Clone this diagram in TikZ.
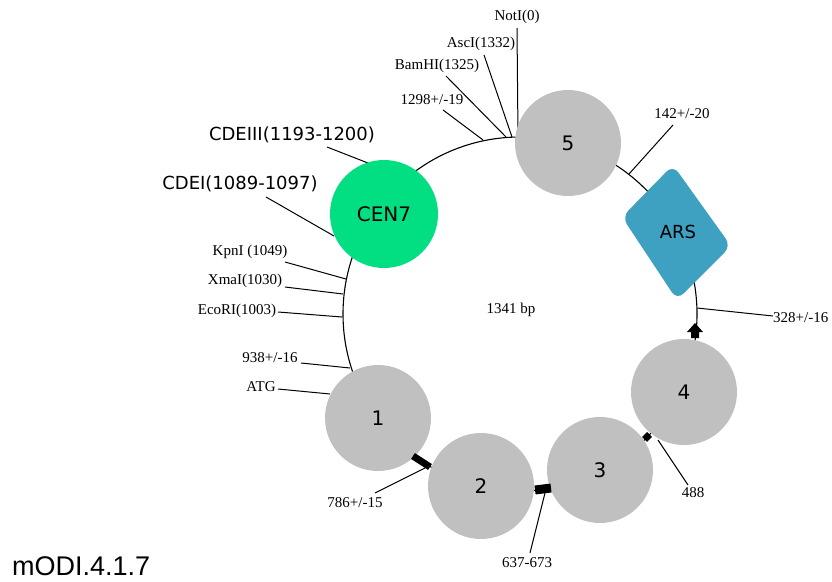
\documentclass[tikz,border=0pt]{standalone}
\usepackage{fontspec}
\setmainfont{Liberation Serif}
\newfontfamily\arialf{Liberation Sans}
\newfontfamily\comicf{DejaVu Sans}
\definecolor{cengreen}{HTML}{02DE82}
\definecolor{arsblue}{HTML}{3EA1C1}
\definecolor{partgray}{HTML}{C0C0C0}
\begin{document}
\begin{tikzpicture}[x=1pt,y=-1pt,
  ring/.style={draw=black,line width=1.1pt},
  tick/.style={draw=black,line width=1pt},
  lbl/.style={font=\fontsize{15}{15}\selectfont,inner sep=0pt},
  cdelbl/.style={font=\comicf\fontsize{18}{18}\selectfont,inner sep=0pt},
  part/.style={circle,fill=partgray,minimum size=106pt,inner sep=0pt,font=\comicf\fontsize{20}{20}\selectfont},
  bar/.style={draw=black,line width=#1},
]
\useasboundingbox (0,0) rectangle (832,581);
\coordinate (O) at (520,314);
\draw[ring] (O) circle[radius=177pt];

% label lines
\coordinate (rNot) at (518,137); \coordinate (eNot) at (517,28);
\coordinate (rAsc) at (512,137); \coordinate (eAsc) at (484,55);
\coordinate (rBam) at (506,137); \coordinate (eBam) at (446,76);
\coordinate (r1298) at (483,140); \coordinate (e1298) at (443,110);
\coordinate (rC3) at (368,163); \coordinate (eC3) at (327,147);
\coordinate (rC1) at (334,236); \coordinate (eC1) at (266,197);
\coordinate (rKpn) at (346,279); \coordinate (eKpn) at (285,262);
\coordinate (rXma) at (343,294); \coordinate (eXma) at (285,287);
\coordinate (rEco) at (342,317); \coordinate (eEco) at (278,312);
\coordinate (r938) at (350,368); \coordinate (e938) at (301,363);
\coordinate (rATG) at (330,394); \coordinate (eATG) at (278,389);
\coordinate (r142) at (629,174); \coordinate (e142) at (673,125);
\coordinate (r328) at (697,308); \coordinate (e328) at (773,316);
\coordinate (r786) at (425,468); \coordinate (e786) at (375,493);
\coordinate (r637) at (545,493); \coordinate (e637) at (530,553);
\coordinate (r488) at (658,440); \coordinate (e488) at (688,485);
\foreach \n in {Not,Asc,Bam,1298,C3,C1,Kpn,Xma,Eco,938,ATG,142,328,786,637,488}
  \draw[tick] (r\n) -- (e\n);

\node[lbl] (lNot) at (517,17) {NotI(0)};
\node[lbl] (lAsc) at (481,44) {AscI(1332)};
\node[lbl] (lBam) at (437,66) {BamHI(1325)};
\node[lbl] (l1298) at (432,100) {1298+/-19};
\node[cdelbl] (lC3) at (292,135) {CDEIII(1193-1200)};
\node[cdelbl] (lC1) at (240,184) {CDEI(1089-1097)};
\node[lbl] (lKpn) at (250,252) {KpnI (1049)};
\node[lbl] (lXma) at (245,281) {XmaI(1030)};
\node[lbl] (lEco) at (237,311) {EcoRI(1003)};
\node[lbl] (l938) at (270,358) {938+/-16};
\node[lbl] (lATG) at (261,387) {ATG};
\node[lbl] (l142) at (682,114) {142+/-20};
\node[lbl,anchor=west] (l328) at (773,318) {328+/-16};
\node[lbl] (l786) at (355,503) {786+/-15};
\node[lbl] (l637) at (527,563) {637-673};
\node[lbl] (l488) at (693,493) {488};

\node[lbl] (bp) at (511,310) {1341 bp};

% parts
\node[part] (p5) at (568,143) {5};
\node[part] (p1) at (378,418) {1};
\node[part] (p2) at (481,486) {2};
\node[part] (p3) at (600,470) {3};
\node[part] (p4) at (684,392) {4};
\node[circle,fill=cengreen,minimum size=108pt,inner sep=0pt,font=\comicf\fontsize{20}{20}\selectfont] (cen) at (384,214) {CEN7};
\fill[arsblue,rounded corners=9pt] (673,165) -- (731,246) -- (677,300) -- (622,217) -- cycle;
\node[font=\comicf\fontsize{18}{18}\selectfont,inner sep=0pt] (ars) at (678,232) {ARS};

% markers
\draw[bar=7pt] (413,456) -- (430,467);
\draw[bar=9pt] (535,490) -- (551,488);
\draw[bar=7pt] (644.5,439.5) -- (649.5,434.5);
\fill[black] (695,323) -- (703,332) -- (699,332) -- (699,338) -- (691,338) -- (691,332) -- (687,332) -- cycle;

\node[font=\arialf\fontsize{27}{27}\selectfont,inner sep=0pt,anchor=base west] (title) at (12,575) {mODI.4.1.7};
\end{tikzpicture}
\end{document}
